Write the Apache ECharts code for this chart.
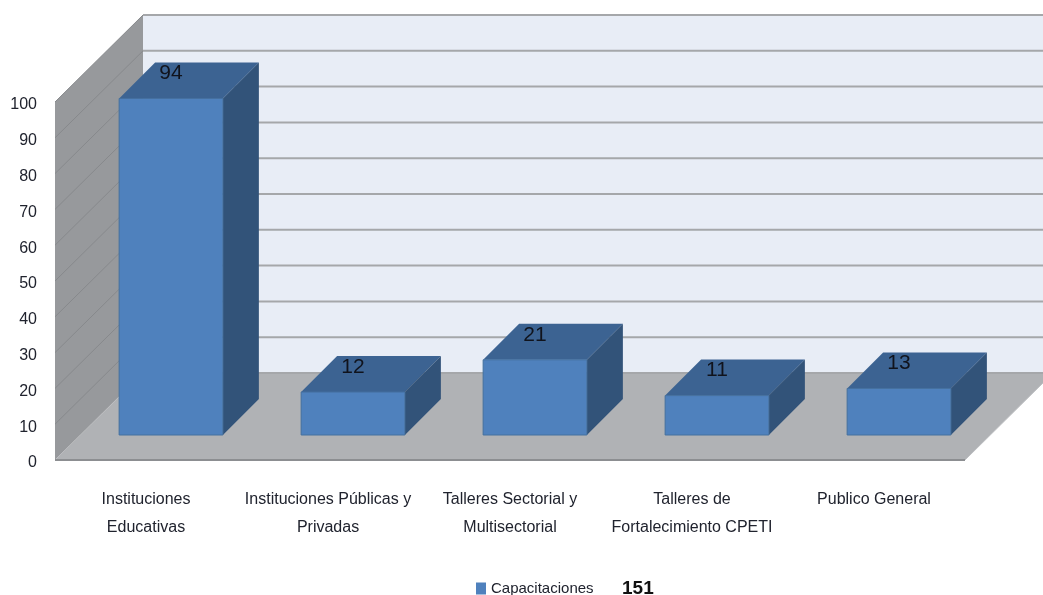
<!DOCTYPE html>
<html>
<head>
<meta charset="utf-8">
<style>html,body{margin:0;padding:0;background:#fff}#root{width:1043px;height:595px}</style>
<script src="https://cdn.jsdelivr.net/npm/echarts@6/dist/echarts.min.js"></script>
</head>
<body>
<div id="root"></div>
<script>
const categories = ['Instituciones\nEducativas', 'Instituciones Públicas y\nPrivadas', 'Talleres Sectorial y\nMultisectorial', 'Talleres de\nFortalecimiento CPETI', 'Publico General'];
const capacitaciones = [94, 12, 21, 11, 13];
const yTicks = [0, 10, 20, 30, 40, 50, 60, 70, 80, 90, 100];
const seriesName = 'Capacitaciones';
const total = 151;

const font = '"Liberation Sans", sans-serif';
const textColor = '#20232e';
// desplazamiento de la pared del fondo y de las barras
const wallDx = 88, wallDy = -87;
const barShift = 25, barDepth = 36;

let myCharts = echarts.init(document.getElementById('root'));

function poly(points, fill) {
    return { type: 'polygon', shape: { points: points }, style: { fill: fill } };
}

// paredes y piso, se dibujan una sola vez
function renderWalls(params, api) {
    let f0 = api.coord([0, 0]), f100 = api.coord([0, 100]);
    let left = params.coordSys.x, right = left + params.coordSys.width;
    let y0 = f0[1], y1 = f100[1];
    return {
        type: 'group',
        children: [
            poly([[left + wallDx, y1 + wallDy], [right + wallDx, y1 + wallDy], [right + wallDx, y0 + wallDy], [left + wallDx, y0 + wallDy]], '#e8edf6'),
            poly([[left, y1], [left + wallDx, y1 + wallDy], [left + wallDx, y0 + wallDy], [left, y0]], '#97999c'),
            poly([[left, y0], [left + wallDx, y0 + wallDy], [right + wallDx, y0 + wallDy], [right, y0]], '#b0b2b5'),
            { type: 'line', shape: { x1: left, y1: y0, x2: right, y2: y0 }, style: { stroke: '#8c8e91', lineWidth: 2 } },
            { type: 'line', shape: { x1: right, y1: y0, x2: right + wallDx, y2: y0 + wallDy }, style: { stroke: '#bdbfc2', lineWidth: 1 } }
        ]
    };
}

// lineas de la grilla sobre la pared lateral y la del fondo
function renderGridLine(params, api) {
    let p = api.coord([0, api.value(0)]);
    let left = params.coordSys.x, right = left + params.coordSys.width;
    let y = p[1];
    let children = [
        { type: 'line', shape: { x1: left + wallDx, y1: y + wallDy, x2: right + wallDx, y2: y + wallDy }, style: { stroke: '#a5a7aa', lineWidth: 2 } }
    ];
    if (api.value(0) > 0) {
        children.push({ type: 'line', shape: { x1: left, y1: y, x2: left + wallDx, y2: y + wallDy }, style: { stroke: '#87898c', lineWidth: 1 } });
    }
    return { type: 'group', children: children };
}

function renderBar(params, api) {
    let base = api.coord([api.value(0), 0]);
    let top = api.coord([api.value(0), api.value(1)]);
    let w = api.size([1, 0])[0] * 0.57;
    let x0 = base[0] + barShift - w / 2, x1 = x0 + w;
    let yb = base[1] - barShift, yt = top[1] - barShift;
    let d = barDepth;
    return {
        type: 'group',
        children: [
            poly([[x0, yt], [x0 + d, yt - d], [x1 + d, yt - d], [x1, yt]], '#3c6392'),
            poly([[x1, yt], [x1 + d, yt - d], [x1 + d, yb - d], [x1, yb]], '#325379'),
            { type: 'rect', shape: { x: x0, y: yt, width: w, height: yb - yt }, style: { fill: '#4f81bd', stroke: '#44709f', lineWidth: 1 } },
            { type: 'text', x: (x0 + x1) / 2, y: yt - 25, style: { text: String(api.value(1)), fill: '#10131c', font: '21px ' + font, textAlign: 'center', textVerticalAlign: 'middle' } }
        ]
    };
}

let option = {
    animation: false,
    grid: { left: 55, top: 102, width: 910, height: 358 },
    legend: {
        left: 471,
        top: 574,
        itemWidth: 10,
        itemHeight: 12,
        data: [{ name: seriesName, icon: 'rect' }],
        formatter: function (name) {
            return '{a|' + name + '}{b|' + total + '}';
        },
        textStyle: {
            rich: {
                a: { fontFamily: font, fontSize: 15, color: textColor, width: 131 },
                b: { fontFamily: font, fontSize: 19, fontWeight: 'bold', color: '#111' }
            }
        }
    },
    xAxis: {
        type: 'category',
        data: categories,
        axisLine: { show: false },
        axisTick: { show: false },
        splitLine: { show: false },
        axisLabel: { interval: 0, margin: 26, fontFamily: font, fontSize: 16, lineHeight: 28, color: textColor }
    },
    yAxis: {
        type: 'value',
        min: 0,
        max: 100,
        interval: 10,
        axisLine: { show: false },
        axisTick: { show: false },
        splitLine: { show: false },
        axisLabel: { margin: 18, fontFamily: font, fontSize: 16, color: textColor, verticalAlign: 'top', lineHeight: 6 }
    },
    series: [
        { type: 'custom', name: 'paredes', renderItem: renderWalls, data: [[0]], silent: true, z: 1, encode: { x: 0 } },
        { type: 'custom', name: 'grilla', renderItem: renderGridLine, data: yTicks.map(t => [t]), silent: true, z: 2, encode: { y: 0 } },
        {
            type: 'custom',
            name: seriesName,
            renderItem: renderBar,
            data: capacitaciones.map((v, i) => [i, v]),
            encode: { x: 0, y: 1 },
            itemStyle: { color: '#4f81bd' },
            z: 3
        }
    ]
};
myCharts.setOption(option);
</script>
</body>
</html>
